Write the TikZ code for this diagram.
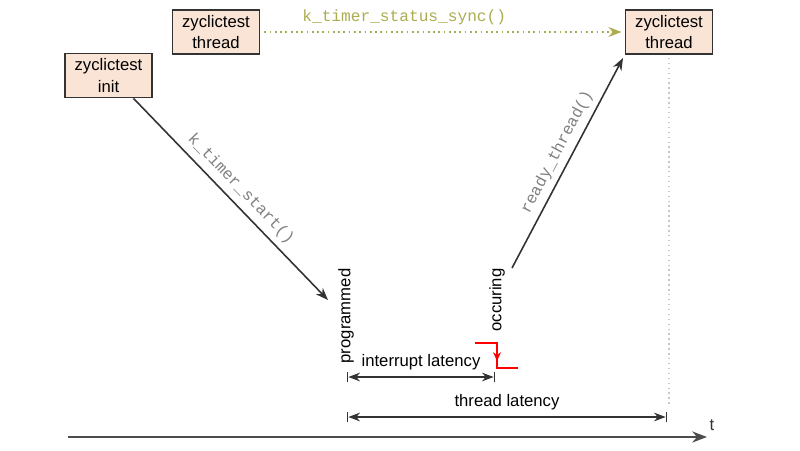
\documentclass[tikz,border=0pt]{standalone}
\usepackage{fontspec}
\setmainfont{Liberation Sans}
\setmonofont{Liberation Mono}
\usepackage{tikz}
\usetikzlibrary{positioning, calc, arrows.meta}
\definecolor{boxfill}{RGB}{250,228,214}
\definecolor{boxline}{RGB}{51,51,51}
\definecolor{callolive}{RGB}{172,172,80}
\definecolor{callgray}{RGB}{128,128,128}
\tikzset{
	proc/.style={draw=boxline, fill=boxfill, line width=1pt, minimum width=1.74cm, minimum height=0.88cm, align=center, inner sep=1pt, font=\fontsize{9.5}{12}\selectfont},
	call/.style={font=\ttfamily\fontsize{9.2}{11}\selectfont, text=callgray},
	ev/.style={font=\fontsize{9.5}{11}\selectfont},
	flow/.style={->, line width=0.9pt, draw=boxline},
}

\begin{document}
\begin{tikzpicture}[>=Stealth]
	\useasboundingbox (0,0) rectangle (16,9);
	\node [proc] (init) at (2.17,7.49) {zyclictest\\init};
	\node [proc] (thrA) at (4.32,8.36) {zyclictest\\thread};
	\node [proc] (thrB) at (13.38,8.36) {zyclictest\\thread};
	
	\draw [dotted, callolive, line width=1pt, ->, shorten <=0.08cm, shorten >=0.06cm] (thrA) -- node [above, pos=0.395, call, text=callolive] (sync) {k\_timer\_status\_sync()} (thrB);
	
	\coordinate (progtip) at (6.56,3.0);
	\draw [flow] ([xshift=0.5cm]init.south) -- node [above, sloped, call] (startlbl) {k\_timer\_start()} (progtip);
	
	\node [ev, rotate=90] (prog) at (6.92,2.68) {programmed};
	\node [ev, rotate=90] (occ) at (9.94,3.0) {occuring};
	
	\coordinate (occtop) at (10.24,3.64);
	\coordinate (readytip) at (12.46,7.84);
	\draw [flow] (occtop) -- node [above, sloped, pos=0.52, call] (readylbl) {ready\_thread()} (readytip);
	
	% interrupt marker
	\coordinate (irqA) at (6.94,1.46);
	\coordinate (irqB) at (9.9,1.46);
	\draw [|<->|, line width=0.8pt, boxline] (irqA) -- node [above, ev, text=black] (irqlbl) {interrupt latency} (irqB);
	\draw [red, line width=1pt] (9.5,2.14) -- (9.94,2.14) -- (9.94,1.64) -- (10.36,1.64);
	\draw [red, line width=0.8pt, -{Stealth[length=5pt, width=4.5pt]}] (9.94,2.14) -- (9.94,1.78);
	
	\coordinate (thlA) at (6.94,0.66);
	\coordinate (thlB) at (13.34,0.66);
	\draw [|<->|, line width=0.8pt, boxline] (thlA) -- node [above, ev, text=black] (thllbl) {thread latency} (thlB);
	\coordinate (thrBend) at (13.38,0.9);
	\draw [dotted, black!22, line width=0.8pt] (thrB.south) ++(0,-0.06) -- (thrBend);
	
	% time axis
	\coordinate (t0) at (1.36,0.26);
	\coordinate (t1) at (14.14,0.26);
	\draw [->, line width=1.2pt, black!70] (t0) -- (t1);
	\node [ev, black!80] (tlbl) at (14.24,0.5) {t};
\end{tikzpicture}
\end{document}
